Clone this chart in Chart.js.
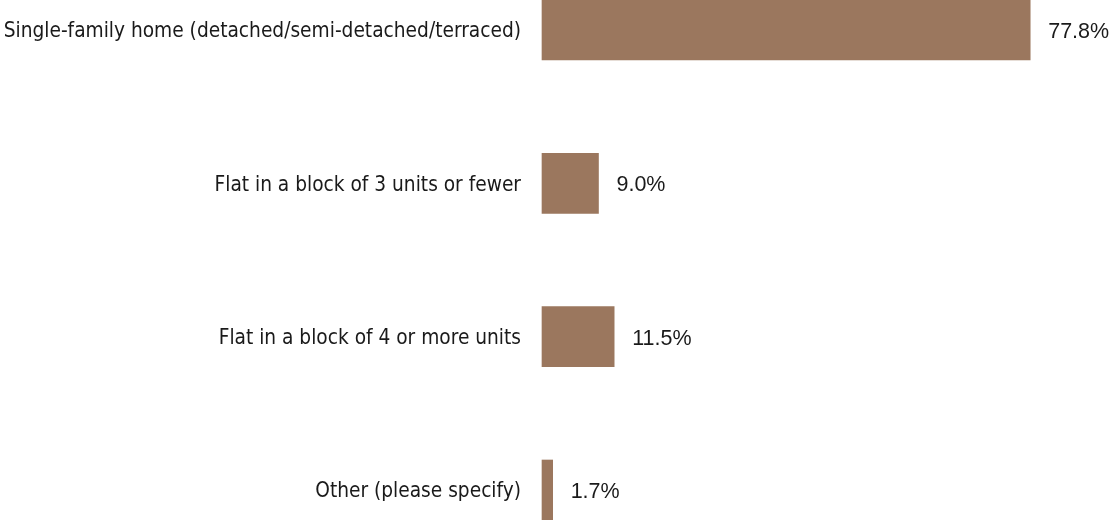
<!DOCTYPE html>
<html>
<head>
<meta charset="utf-8">
<script src="https://cdn.jsdelivr.net/npm/chart.js@4/dist/chart.umd.min.js"></script>
<style>
  html, body { margin: 0; padding: 0; background: #fff; overflow: hidden; }
  #wrap { width: 1111px; height: 520px; position: relative; }
</style>
</head>
<body>
<div id="wrap"><canvas id="chart"></canvas></div>
<script>
// data
const categories = [
  "Single-family home (detached/semi-detached/terraced)",
  "Flat in a block of 3 units or fewer",
  "Flat in a block of 4 or more units",
  "Other (please specify)"
];
const shares = [77.8, 9.0, 11.5, 1.7];

const barColor = "rgb(155,119,94)";

// value labels right of each bar
const valueLabels = {
  id: "valueLabels",
  afterDatasetsDraw(chart) {
    const ctx = chart.ctx;
    const meta = chart.getDatasetMeta(0);
    ctx.save();
    ctx.font = "21.5px 'Liberation Sans', Arial, sans-serif";
    ctx.fillStyle = "#1a1a1a";
    ctx.textAlign = "left";
    ctx.textBaseline = "middle";
    meta.data.forEach((bar, i) => {
      ctx.fillText(shares[i].toFixed(1) + "%", bar.x + 18, bar.y + 2);
    });
    ctx.restore();
  }
};

new Chart(document.getElementById("chart"), {
  type: "bar",
  data: {
    labels: categories,
    datasets: [{
      data: shares,
      backgroundColor: barColor,
      barThickness: 60,
      clip: false
    }]
  },
  options: {
    indexAxis: "y",
    responsive: true,
    maintainAspectRatio: false,
    animation: false,
    layout: { padding: { top: 30, bottom: 30, left: 0, right: 67 } },
    plugins: {
      legend: { display: false },
      tooltip: { enabled: false }
    },
    scales: {
      x: {
        display: false,
        min: 0,
        max: 80
      },
      y: {
        offset: false,
        grid: { display: false, drawTicks: false },
        border: { display: false },
        ticks: {
          padding: 21,
          labelOffset: 2,
          color: "#1a1a1a",
          font: { family: "'DejaVu Sans Condensed', 'DejaVu Sans', sans-serif", size: 20.7 }
        },
        afterFit(scale) {
          scale.width = 542;
          // labels at the ends should not push the plot area
          scale.paddingTop = 0;
          scale.paddingBottom = 0;
        }
      }
    }
  },
  plugins: [valueLabels]
});
</script>
</body>
</html>
